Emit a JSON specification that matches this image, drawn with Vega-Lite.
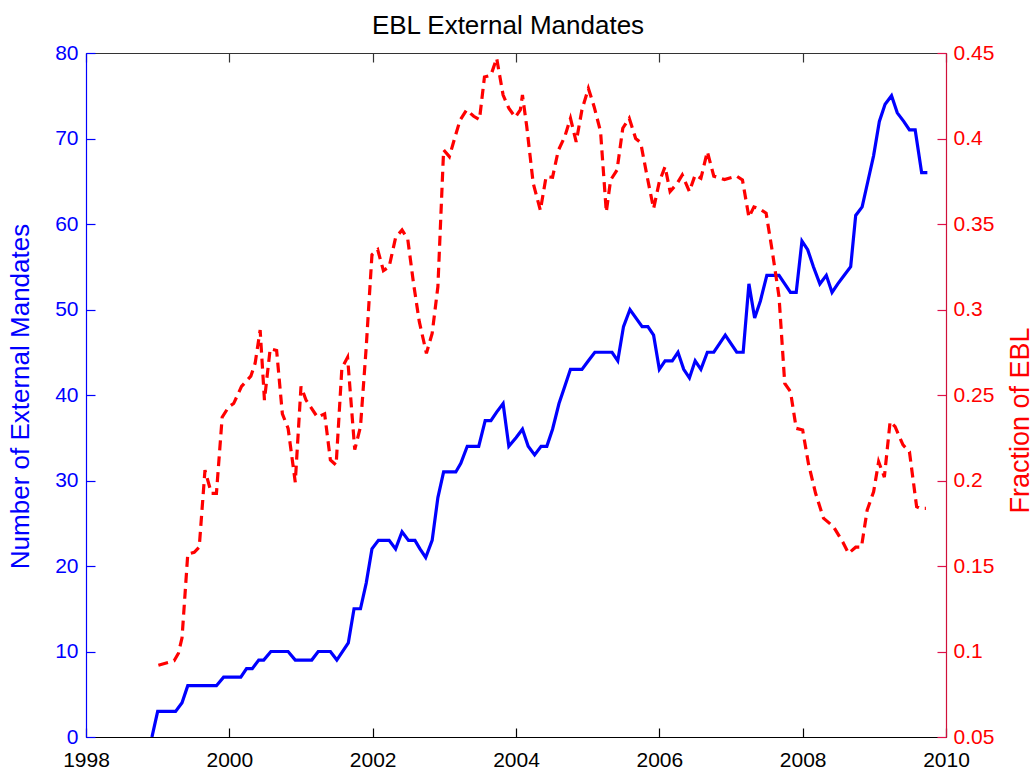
{
  "$schema": "https://vega.github.io/schema/vega-lite/v6.json",
  "width": 860,
  "height": 684,
  "autosize": "none",
  "padding": {"left": 86, "top": 53, "right": 89, "bottom": 35},
  "config": {"view": {"stroke": null}, "font": "Liberation Sans"},
  "title": {"text": "EBL External Mandates", "fontSize": 26, "fontWeight": "normal", "color": "black", "font": "Liberation Sans", "anchor": "middle", "offset": 3, "dx": -8},
  "datasets": {
    "mandates": [
      {"year": 1998.92, "count": 0}, {"year": 1999.0, "count": 3}, {"year": 1999.25, "count": 3}, {"year": 1999.34, "count": 4}, {"year": 1999.42, "count": 6}, {"year": 1999.82, "count": 6}, {"year": 1999.92, "count": 7}, {"year": 2000.16, "count": 7}, {"year": 2000.24, "count": 8}, {"year": 2000.32, "count": 8}, {"year": 2000.41, "count": 9}, {"year": 2000.48, "count": 9}, {"year": 2000.58, "count": 10}, {"year": 2000.82, "count": 10}, {"year": 2000.92, "count": 9}, {"year": 2001.15, "count": 9}, {"year": 2001.24, "count": 10}, {"year": 2001.41, "count": 10}, {"year": 2001.5, "count": 9}, {"year": 2001.66, "count": 11}, {"year": 2001.74, "count": 15}, {"year": 2001.83, "count": 15}, {"year": 2001.91, "count": 18}, {"year": 2001.99, "count": 22}, {"year": 2002.08, "count": 23}, {"year": 2002.23, "count": 23}, {"year": 2002.32, "count": 22}, {"year": 2002.41, "count": 24}, {"year": 2002.5, "count": 23}, {"year": 2002.59, "count": 23}, {"year": 2002.66, "count": 22}, {"year": 2002.74, "count": 21}, {"year": 2002.83, "count": 23}, {"year": 2002.91, "count": 28}, {"year": 2002.99, "count": 31}, {"year": 2003.16, "count": 31}, {"year": 2003.23, "count": 32}, {"year": 2003.32, "count": 34}, {"year": 2003.48, "count": 34}, {"year": 2003.57, "count": 37}, {"year": 2003.65, "count": 37}, {"year": 2003.73, "count": 38}, {"year": 2003.82, "count": 39}, {"year": 2003.9, "count": 34}, {"year": 2004.0, "count": 35}, {"year": 2004.09, "count": 36}, {"year": 2004.17, "count": 34}, {"year": 2004.26, "count": 33}, {"year": 2004.35, "count": 34}, {"year": 2004.43, "count": 34}, {"year": 2004.51, "count": 36}, {"year": 2004.6, "count": 39}, {"year": 2004.68, "count": 41}, {"year": 2004.76, "count": 43}, {"year": 2004.92, "count": 43}, {"year": 2005.01, "count": 44}, {"year": 2005.1, "count": 45}, {"year": 2005.34, "count": 45}, {"year": 2005.42, "count": 44}, {"year": 2005.5, "count": 48}, {"year": 2005.59, "count": 50}, {"year": 2005.76, "count": 48}, {"year": 2005.84, "count": 48}, {"year": 2005.92, "count": 47}, {"year": 2006.0, "count": 43}, {"year": 2006.08, "count": 44}, {"year": 2006.18, "count": 44}, {"year": 2006.26, "count": 45}, {"year": 2006.34, "count": 43}, {"year": 2006.42, "count": 42}, {"year": 2006.5, "count": 44}, {"year": 2006.58, "count": 43}, {"year": 2006.67, "count": 45}, {"year": 2006.76, "count": 45}, {"year": 2006.92, "count": 47}, {"year": 2007.08, "count": 45}, {"year": 2007.17, "count": 45}, {"year": 2007.25, "count": 53}, {"year": 2007.33, "count": 49}, {"year": 2007.41, "count": 51}, {"year": 2007.5, "count": 54}, {"year": 2007.67, "count": 54}, {"year": 2007.75, "count": 53}, {"year": 2007.83, "count": 52}, {"year": 2007.91, "count": 52}, {"year": 2007.99, "count": 58}, {"year": 2008.07, "count": 57}, {"year": 2008.15, "count": 55}, {"year": 2008.24, "count": 53}, {"year": 2008.33, "count": 54}, {"year": 2008.41, "count": 52}, {"year": 2008.49, "count": 53}, {"year": 2008.58, "count": 54}, {"year": 2008.67, "count": 55}, {"year": 2008.74, "count": 61}, {"year": 2008.83, "count": 62}, {"year": 2008.91, "count": 65}, {"year": 2008.99, "count": 68}, {"year": 2009.07, "count": 72}, {"year": 2009.15, "count": 74}, {"year": 2009.24, "count": 75}, {"year": 2009.32, "count": 73}, {"year": 2009.41, "count": 72}, {"year": 2009.49, "count": 71}, {"year": 2009.57, "count": 71}, {"year": 2009.66, "count": 66}, {"year": 2009.74, "count": 66}
    ],
    "fraction": [
      {"year": 1999.01, "ebl": 0.092}, {"year": 1999.23, "ebl": 0.0946}, {"year": 1999.29, "ebl": 0.099}, {"year": 1999.34, "ebl": 0.108}, {"year": 1999.42, "ebl": 0.157}, {"year": 1999.51, "ebl": 0.158}, {"year": 1999.58, "ebl": 0.161}, {"year": 1999.66, "ebl": 0.206}, {"year": 1999.75, "ebl": 0.1925}, {"year": 1999.82, "ebl": 0.1925}, {"year": 1999.9, "ebl": 0.237}, {"year": 1999.99, "ebl": 0.243}, {"year": 2000.06, "ebl": 0.245}, {"year": 2000.17, "ebl": 0.255}, {"year": 2000.3, "ebl": 0.261}, {"year": 2000.36, "ebl": 0.2685}, {"year": 2000.43, "ebl": 0.288}, {"year": 2000.49, "ebl": 0.247}, {"year": 2000.57, "ebl": 0.277}, {"year": 2000.66, "ebl": 0.276}, {"year": 2000.74, "ebl": 0.239}, {"year": 2000.82, "ebl": 0.2305}, {"year": 2000.92, "ebl": 0.199}, {"year": 2001.0, "ebl": 0.255}, {"year": 2001.07, "ebl": 0.247}, {"year": 2001.23, "ebl": 0.237}, {"year": 2001.33, "ebl": 0.239}, {"year": 2001.41, "ebl": 0.212}, {"year": 2001.49, "ebl": 0.209}, {"year": 2001.57, "ebl": 0.2656}, {"year": 2001.65, "ebl": 0.272}, {"year": 2001.75, "ebl": 0.218}, {"year": 2001.83, "ebl": 0.2315}, {"year": 2001.91, "ebl": 0.278}, {"year": 2001.99, "ebl": 0.332}, {"year": 2002.07, "ebl": 0.335}, {"year": 2002.15, "ebl": 0.3227}, {"year": 2002.23, "ebl": 0.325}, {"year": 2002.32, "ebl": 0.342}, {"year": 2002.41, "ebl": 0.3465}, {"year": 2002.49, "ebl": 0.341}, {"year": 2002.57, "ebl": 0.3153}, {"year": 2002.65, "ebl": 0.293}, {"year": 2002.75, "ebl": 0.2744}, {"year": 2002.83, "ebl": 0.286}, {"year": 2002.91, "ebl": 0.3133}, {"year": 2002.99, "ebl": 0.3933}, {"year": 2003.07, "ebl": 0.3894}, {"year": 2003.15, "ebl": 0.401}, {"year": 2003.22, "ebl": 0.4108}, {"year": 2003.31, "ebl": 0.4167}, {"year": 2003.41, "ebl": 0.413}, {"year": 2003.49, "ebl": 0.411}, {"year": 2003.56, "ebl": 0.436}, {"year": 2003.65, "ebl": 0.437}, {"year": 2003.73, "ebl": 0.447}, {"year": 2003.82, "ebl": 0.4254}, {"year": 2003.9, "ebl": 0.4177}, {"year": 2003.99, "ebl": 0.4124}, {"year": 2004.06, "ebl": 0.4167}, {"year": 2004.09, "ebl": 0.4254}, {"year": 2004.15, "ebl": 0.407}, {"year": 2004.24, "ebl": 0.3738}, {"year": 2004.34, "ebl": 0.358}, {"year": 2004.42, "ebl": 0.3777}, {"year": 2004.51, "ebl": 0.3773}, {"year": 2004.59, "ebl": 0.393}, {"year": 2004.68, "ebl": 0.401}, {"year": 2004.76, "ebl": 0.4118}, {"year": 2004.84, "ebl": 0.398}, {"year": 2004.92, "ebl": 0.4167}, {"year": 2005.01, "ebl": 0.4293}, {"year": 2005.09, "ebl": 0.4186}, {"year": 2005.18, "ebl": 0.404}, {"year": 2005.26, "ebl": 0.357}, {"year": 2005.32, "ebl": 0.3757}, {"year": 2005.41, "ebl": 0.3816}, {"year": 2005.49, "ebl": 0.406}, {"year": 2005.58, "ebl": 0.4118}, {"year": 2005.67, "ebl": 0.4}, {"year": 2005.74, "ebl": 0.3975}, {"year": 2005.83, "ebl": 0.3777}, {"year": 2005.92, "ebl": 0.359}, {"year": 2006.0, "ebl": 0.3747}, {"year": 2006.08, "ebl": 0.3835}, {"year": 2006.15, "ebl": 0.369}, {"year": 2006.25, "ebl": 0.3738}, {"year": 2006.32, "ebl": 0.3787}, {"year": 2006.42, "ebl": 0.369}, {"year": 2006.5, "ebl": 0.3787}, {"year": 2006.58, "ebl": 0.3767}, {"year": 2006.67, "ebl": 0.3923}, {"year": 2006.76, "ebl": 0.378}, {"year": 2006.91, "ebl": 0.376}, {"year": 2007.08, "ebl": 0.378}, {"year": 2007.16, "ebl": 0.3757}, {"year": 2007.25, "ebl": 0.354}, {"year": 2007.32, "ebl": 0.36}, {"year": 2007.41, "ebl": 0.3586}, {"year": 2007.49, "ebl": 0.3563}, {"year": 2007.58, "ebl": 0.333}, {"year": 2007.67, "ebl": 0.3075}, {"year": 2007.75, "ebl": 0.2568}, {"year": 2007.83, "ebl": 0.252}, {"year": 2007.91, "ebl": 0.2305}, {"year": 2008.0, "ebl": 0.2295}, {"year": 2008.08, "ebl": 0.21}, {"year": 2008.18, "ebl": 0.1925}, {"year": 2008.29, "ebl": 0.178}, {"year": 2008.43, "ebl": 0.173}, {"year": 2008.56, "ebl": 0.164}, {"year": 2008.64, "ebl": 0.1574}, {"year": 2008.74, "ebl": 0.161}, {"year": 2008.82, "ebl": 0.161}, {"year": 2008.9, "ebl": 0.1827}, {"year": 2008.99, "ebl": 0.1934}, {"year": 2009.06, "ebl": 0.211}, {"year": 2009.14, "ebl": 0.202}, {"year": 2009.22, "ebl": 0.2344}, {"year": 2009.29, "ebl": 0.2315}, {"year": 2009.4, "ebl": 0.2208}, {"year": 2009.49, "ebl": 0.2168}, {"year": 2009.59, "ebl": 0.1847}, {"year": 2009.64, "ebl": 0.1837}, {"year": 2009.72, "ebl": 0.1837}
    ]
  },
  "layer": [
    {
      "data": {"name": "mandates"},
      "mark": {"type": "line", "color": "#0000ff", "strokeWidth": 3.2, "clip": true},
      "encoding": {
        "x": {
          "field": "year", "type": "quantitative",
          "scale": {"domain": [1998, 2010], "nice": false, "zero": false},
          "axis": {
            "orient": "bottom", "values": [1998, 2000, 2002, 2004, 2006, 2008, 2010], "format": "d",
            "labelFontSize": 21, "labelColor": "black", "labelFont": "Liberation Sans", "labelFlush": false, "labelOverlap": false,
            "domainColor": "black", "domainWidth": 1.2, "tickColor": "black", "tickWidth": 1.2, "tickSize": -9, "labelPadding": 21,
            "grid": false, "title": null
          }
        },
        "y": {
          "field": "count", "type": "quantitative",
          "scale": {"domain": [0, 80], "nice": false, "zero": false},
          "axis": {
            "orient": "left", "values": [0, 10, 20, 30, 40, 50, 60, 70, 80],
            "labelFontSize": 21, "labelColor": "#0000ff", "labelFont": "Liberation Sans", "labelFlush": false, "labelOverlap": false,
            "domainColor": "#0000ff", "domainWidth": 1.2, "tickColor": "#0000ff", "tickWidth": 1.2, "tickSize": -9, "labelPadding": 17,
            "grid": false,
            "title": "Number of External Mandates", "titleColor": "#0000ff", "titleFontSize": 26, "titleFontWeight": "normal", "titleFont": "Liberation Sans",
            "titleAngle": 270, "titleX": -66, "titleY": 343, "titleBaseline": "middle", "titleAlign": "center"
          }
        }
      }
    },
    {
      "data": {"name": "fraction"},
      "mark": {"type": "line", "color": "#ff0000", "strokeWidth": 3.2, "strokeDash": [10, 6], "clip": true},
      "encoding": {
        "x": {
          "field": "year", "type": "quantitative",
          "scale": {"domain": [1998, 2010], "nice": false, "zero": false},
          "axis": {
            "orient": "top", "values": [1998, 2000, 2002, 2004, 2006, 2008, 2010], "labels": false,
            "domainColor": "#333333", "domainWidth": 1.2, "tickColor": "#333333", "tickWidth": 1.2, "tickSize": -9,
            "grid": false, "title": null
          }
        },
        "y": {
          "field": "ebl", "type": "quantitative",
          "scale": {"domain": [0.05, 0.45], "nice": false, "zero": false},
          "axis": {
            "orient": "right", "values": [0.05, 0.1, 0.15, 0.2, 0.25, 0.3, 0.35, 0.4, 0.45], "format": "~g",
            "labelFontSize": 21, "labelColor": "#ff0000", "labelFont": "Liberation Sans", "labelFlush": false, "labelOverlap": false,
            "domainColor": "#d0103a", "domainWidth": 1.2, "tickColor": "#e0104a", "tickWidth": 1.2, "tickSize": -9, "labelPadding": 16,
            "grid": false,
            "title": "Fraction of EBL", "titleColor": "#ff0000", "titleFontSize": 27, "titleFontWeight": "normal", "titleFont": "Liberation Sans",
            "titleAngle": 270, "titleX": 74, "titleY": 367, "titleBaseline": "middle", "titleAlign": "center"
          }
        }
      }
    }
  ],
  "resolve": {"scale": {"y": "independent"}, "axis": {"x": "independent"}}
}
